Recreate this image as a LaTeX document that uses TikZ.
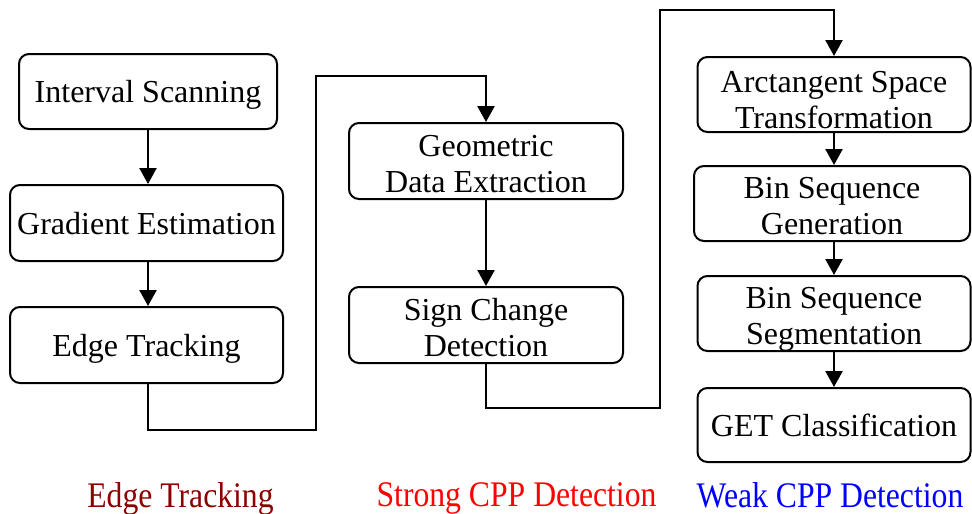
\documentclass[tikz,border=0pt]{standalone}
\usepackage{fontspec}
\setmainfont{Liberation Serif}
\usetikzlibrary{arrows.meta}
\definecolor{etred}{RGB}{139,0,0}
\definecolor{cppred}{RGB}{255,0,0}
\definecolor{cppblue}{RGB}{0,0,255}
\begin{document}
\begin{tikzpicture}[x=1pt,y=-1pt,
  stagebox/.style={draw=black, line width=2pt, rounded corners=10pt,
    inner sep=0pt, align=center, text depth=0pt,
    font=\fontsize{32}{36}\selectfont},
  stagetext/.style={inner sep=0pt, align=center,
    font=\fontsize{32}{36}\selectfont},
  flow/.style={line width=2.4pt, -{Triangle[length=16pt,width=17pt]}},
  grouplabel/.style={inner sep=0pt, text depth=0pt, xscale=0.88,
    font=\fontsize{36}{40}\selectfont}]
\useasboundingbox (0,0) rectangle (972,514);

% Edge tracking column
\node[stagebox, minimum width=258pt, minimum height=75pt] (IS) at (148,91.5) {Interval Scanning};
\node[stagebox, minimum width=273pt, minimum height=76pt] (GE) at (146.5,223) {Gradient Estimation};
\node[stagebox, minimum width=273pt, minimum height=76pt] (ET) at (146.5,345) {Edge Tracking};

% Strong CPP detection column
\node[stagebox, minimum width=274pt, minimum height=76pt] (GDE) at (486,161) {};
\node[stagebox, minimum width=274pt, minimum height=76pt] (SCD) at (486,325) {};
\node[stagetext] (GDEt) at ([yshift=-3pt]GDE.center) {Geometric\\Data Extraction};
\node[stagetext] (SCDt) at ([yshift=-3pt]SCD.center) {Sign Change\\Detection};

% Weak CPP detection column
\node[stagebox, minimum width=273pt, minimum height=75pt] (AST) at (834,94.5) {};
\node[stagebox, minimum width=276pt, minimum height=75pt] (BSG) at (832,203.5) {};
\node[stagebox, minimum width=273pt, minimum height=75pt] (BSS) at (834,313.5) {};
\node[stagebox, minimum width=273pt, minimum height=74pt] (GET) at (834,425) {GET Classification};
\node[stagetext] (ASTt) at ([yshift=-6pt]AST.center) {Arctangent Space\\Transformation};
\node[stagetext] (BSGt) at ([yshift=-3pt]BSG.center) {Bin Sequence\\Generation};
\node[stagetext] (BSSt) at ([yshift=-6pt]BSS.center) {Bin Sequence\\Segmentation};

% Route corners between columns
\coordinate (r1) at (316,430);
\coordinate (r2) at (316,76);
\coordinate (r3) at (660,408);
\coordinate (r4) at (660,10);

% Connectors
\draw[flow] (IS.south) -- (IS.south |- GE.north);
\draw[flow] (IS.south |- GE.south) -- (IS.south |- ET.north);
\draw[flow] (IS.south |- ET.south) |- (r1) -- (r2) -| (GDE.north);
\draw[flow] (GDE.south) -- (SCD.north);
\draw[flow] (SCD.south) |- (r3) -- (r4) -| (AST.north);
\draw[flow] (AST.south) -- (AST.south |- BSG.north);
\draw[flow] (AST.south |- BSG.south) -- (AST.south |- BSS.north);
\draw[flow] (BSS.south) -- (GET.north);

% Group labels
\node[grouplabel, text=etred] (L1) at (180.5,495) {Edge Tracking};
\node[grouplabel, text=cppred] (L2) at (516.5,495) {Strong CPP Detection};
\node[grouplabel, text=cppblue] (L3) at (830,495) {Weak CPP Detection};
\end{tikzpicture}
\end{document}
